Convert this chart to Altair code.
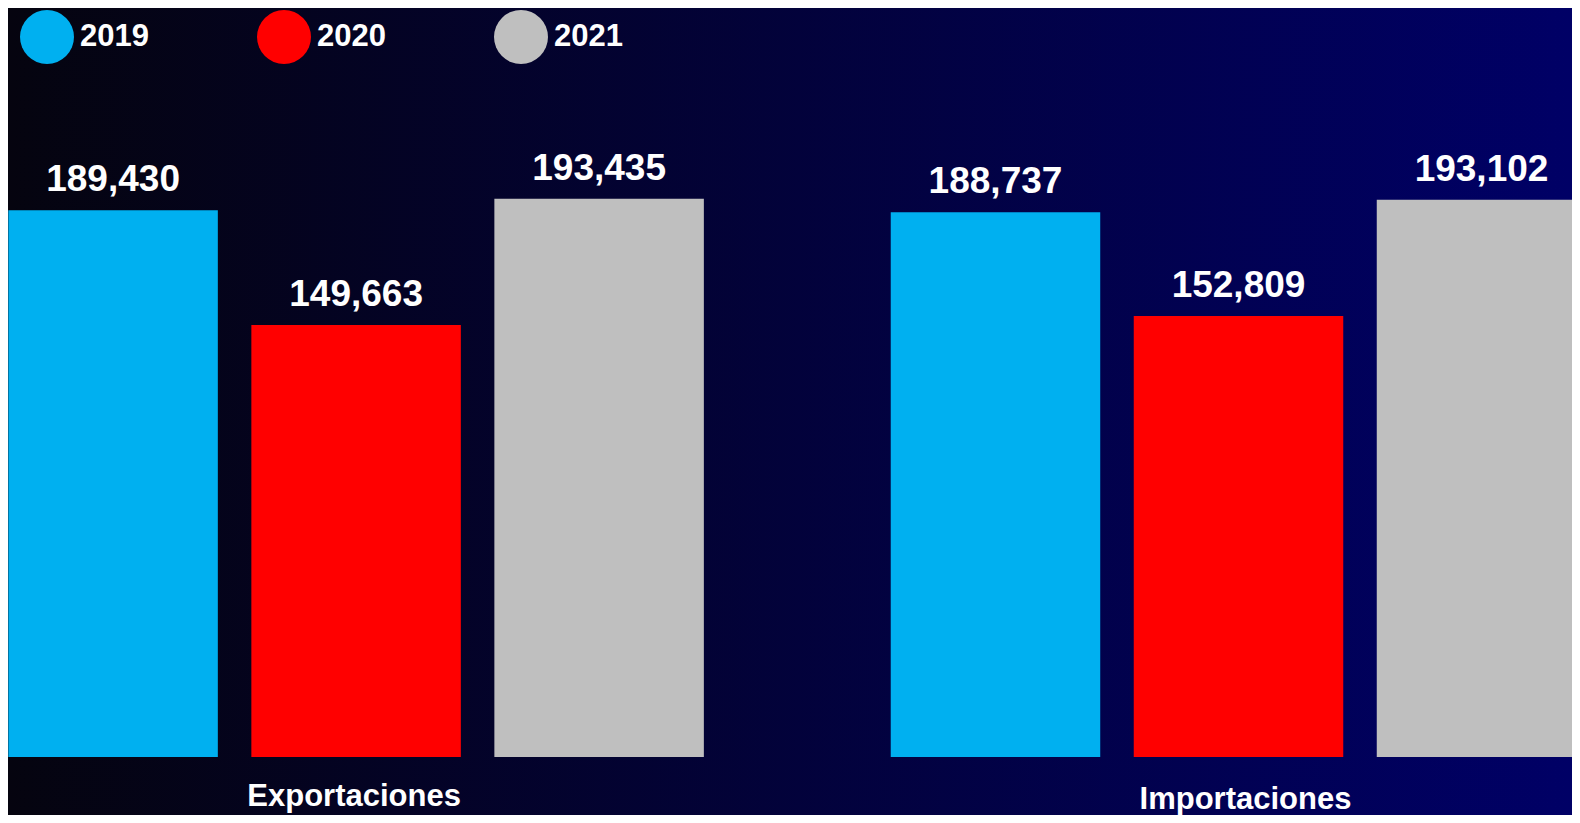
import altair as alt
import pandas as pd

categories = ["Exportaciones", "Importaciones"]
years = ["2019", "2020", "2021"]
exportaciones = [189430, 149663, 193435]
importaciones = [188737, 152809, 193102]
colors = ["#00B0F0", "#FF0000", "#BFBFBF"]

rows = []
for cat, vals in zip(categories, [exportaciones, importaciones]):
    for yr, v in zip(years, vals):
        rows.append({"grupo": cat, "anio": yr, "valor": v})
df = pd.DataFrame(rows)

W, H = 1564, 749
FONT = "Liberation Sans"

bg = alt.Chart(alt.Data(values=[{}])).mark_rect(
    fill=alt.LinearGradient(
        gradient="linear",
        stops=[alt.GradientStop(color="#05040f", offset=0),
               alt.GradientStop(color="#000066", offset=1)],
        x1=0, x2=1, y1=0, y2=0),
    strokeWidth=0,
).encode(x=alt.value(0), x2=alt.value(W), y=alt.value(0), y2=alt.value(H + 58))

x_enc = alt.X(
    "grupo:N",
    scale=alt.Scale(domain=categories, range=[-93.1, 1671.7], paddingInner=0, paddingOuter=0),
    axis=alt.Axis(
        title=None, domain=False, ticks=False, grid=False, labelAngle=0, zindex=2,
        labelFont=FONT, labelFontWeight="bold", labelFontSize=31, labelColor="white",
        labelLimit=0, labelBaseline="top",
        labelPadding=alt.condition("datum.value == 'Importaciones'", alt.value(27), alt.value(24)),
        labelOffset=alt.condition("datum.value == 'Importaciones'", alt.value(7), alt.value(-2)),
    ),
)
xoff = alt.XOffset("anio:N", scale=alt.Scale(domain=years, paddingInner=0.1379, paddingOuter=0.3845))
y_enc = alt.Y("valor:Q", scale=alt.Scale(domain=[0, 259500], nice=False, zero=True), axis=None)

bars = alt.Chart(df).mark_bar(strokeWidth=0).encode(
    x=x_enc,
    xOffset=xoff,
    y=y_enc,
    color=alt.Color(
        "anio:N",
        scale=alt.Scale(domain=years, range=colors),
        legend=alt.Legend(
            orient="none", legendX=12, legendY=2, direction="horizontal", title=None,
            symbolType="circle", symbolSize=2916, symbolStrokeWidth=0, symbolOpacity=1,
            labelFont=FONT, labelFontSize=31, labelFontWeight="bold", labelColor="white",
            labelOffset=6, columnPadding=108, zindex=2,
        ),
    ),
)

labels = alt.Chart(df).mark_text(
    font=FONT, fontSize=37, fontWeight="bold", color="white",
    baseline="alphabetic", align="center", dy=-19,
).encode(
    x=alt.X("grupo:N"),
    xOffset=alt.XOffset("anio:N"),
    y=alt.Y("valor:Q"),
    text=alt.Text("valor:Q", format=",.0f"),
)

chart = alt.layer(bg, bars, labels).properties(
    width=W, height=H, autosize="none",
    padding={"left": 0, "top": 0, "right": 0, "bottom": 58},
    background="#02022a",
).configure_view(stroke=None)

chart.save("out.html", embed_options={"renderer": "svg", "actions": False})
